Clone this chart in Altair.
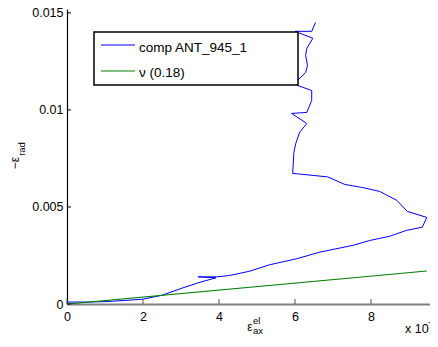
import altair as alt
import pandas as pd

# ---- data (x in units of 1e-3) ----
comp_x = [0, 0.5, 1.0, 1.5, 2.0, 2.5, 3.0, 3.5, 3.92, 3.45, 3.96,
          4.28, 4.81, 5.33, 6.04, 6.65, 7.52, 7.96, 8.49, 8.93, 9.35, 9.47,
          8.96, 8.68, 8.23, 7.78, 7.31, 6.86, 5.94, 5.97, 6.02, 6.12, 6.31,
          5.91, 6.31, 6.44, 6.44, 6.07, 5.96, 6.07, 6.28, 6.33, 6.28, 6.31,
          6.47, 6.0, 6.44, 6.54]
comp_y = [0.0001, 0.0001, 0.00012, 0.00018, 0.00025, 0.00045, 0.0008, 0.00112,
          0.00135, 0.0014, 0.0014,
          0.00147, 0.00169, 0.00202, 0.00233, 0.00267, 0.00302, 0.00327,
          0.00349, 0.00379, 0.00396, 0.00446,
          0.00477, 0.00534, 0.0058, 0.006, 0.00616, 0.00655, 0.00673, 0.0078,
          0.00827, 0.00884, 0.0093, 0.00982, 0.00987, 0.01049, 0.011, 0.01126,
          0.01139, 0.01152, 0.01193, 0.01229, 0.01281, 0.01317, 0.01369,
          0.01405, 0.01405, 0.01451]
nu_x = [0, 9.47]
nu_y = [0, 0.0017]
x_ticks = [0, 2, 4, 6, 8]
y_ticks = [0, 0.005, 0.01, 0.015]
legend_labels = ["comp ANT_945_1", "ν (0.18)"]
legend_colors = ["#0000ff", "#008000"]

W, H = 363, 295
FONT = "Liberation Sans"
xs = alt.Scale(domain=[0, 9.553], nice=False, zero=False)
ys = alt.Scale(domain=[0, 0.0152], nice=False, zero=False)

comp = pd.DataFrame({"x": comp_x, "y": comp_y, "i": list(range(len(comp_x)))})
nu = pd.DataFrame({"x": nu_x, "y": nu_y, "i": list(range(len(nu_x)))})

x_axis = alt.Axis(values=x_ticks, ticks=False, grid=False, domainColor="#808080",
                  domainWidth=2, labelPadding=6, title=None, labelFlush=False)
y_axis = alt.Axis(values=y_ticks, format="~g", ticks=False, grid=False,
                  domainColor="#000000", domainWidth=1.2, labelPadding=4, title=None)

blue = alt.Chart(comp).mark_line(color=legend_colors[0], strokeWidth=1, clip=True).encode(
    x=alt.X("x:Q", scale=xs, axis=x_axis),
    y=alt.Y("y:Q", scale=ys, axis=y_axis),
    order="i:Q",
)
green = alt.Chart(nu).mark_line(color=legend_colors[1], strokeWidth=1.2, clip=True).encode(
    x=alt.X("x:Q", scale=xs),
    y=alt.Y("y:Q", scale=ys),
    order="i:Q",
)

xt = alt.Chart(pd.DataFrame({"v": x_ticks})).mark_rule(color="#555555", strokeWidth=1).encode(
    x=alt.X("v:Q", scale=xs), y=alt.value(H), y2=alt.value(H - 5))
yt = alt.Chart(pd.DataFrame({"v": y_ticks})).mark_rule(color="#000000", strokeWidth=1).encode(
    y=alt.Y("v:Q", scale=ys), x=alt.value(0), x2=alt.value(4))

one = pd.DataFrame({"a": [0]})
leg_box = alt.Chart(one).mark_rect(fill="white", stroke="black", strokeWidth=1.5).encode(
    x=alt.value(27), x2=alt.value(231), y=alt.value(23), y2=alt.value(76))
leg_l1 = alt.Chart(one).mark_rule(color=legend_colors[0], strokeWidth=1).encode(
    x=alt.value(34), x2=alt.value(68), y=alt.value(36))
leg_l2 = alt.Chart(one).mark_rule(color=legend_colors[1], strokeWidth=1.2).encode(
    x=alt.value(34), x2=alt.value(68), y=alt.value(62))


def txt(s, x, y, size, align="left", baseline="alphabetic", angle=0):
    return alt.Chart(pd.DataFrame({"t": [s]})).mark_text(
        align=align, baseline=baseline, font=FONT, fontSize=size, color="black",
        angle=angle).encode(text="t:N", x=alt.value(x), y=alt.value(y))


leg_t1 = txt(legend_labels[0], 72, 42.5, 13.5)
leg_t2 = txt(legend_labels[1], 72, 68, 13.5)

# axis titles (positions relative to the plot area)
yt1 = txt("−ε", -52.5, 154, 12, align="center", baseline="middle", angle=270)
yt2 = txt("rad", -45.5, 140, 9.5, align="center", baseline="middle", angle=270)
xt1 = txt("ε", 183, 322, 12, align="center")
xt2 = txt("el", 186, 315, 9.5)
xt3 = txt("ax", 186, 324.5, 9.5)
xm1 = txt("x 10", 338, 324, 12.5)
xm2 = txt("−3", 361, 317, 9.5)

chart = alt.layer(
    blue, green, xt, yt, leg_box, leg_l1, leg_l2, leg_t1, leg_t2,
    yt1, yt2, xt1, xt2, xt3, xm1, xm2,
).properties(
    width=W, height=H,
    autosize=alt.AutoSizeParams(type="none"),
    padding={"left": 59, "top": 1, "right": 0, "bottom": 30},
).configure_view(stroke=None).configure_axis(
    labelFont=FONT, labelFontSize=12.5, labelColor="black",
)

chart.save("out.html", embed_options={"renderer": "svg", "actions": False})
